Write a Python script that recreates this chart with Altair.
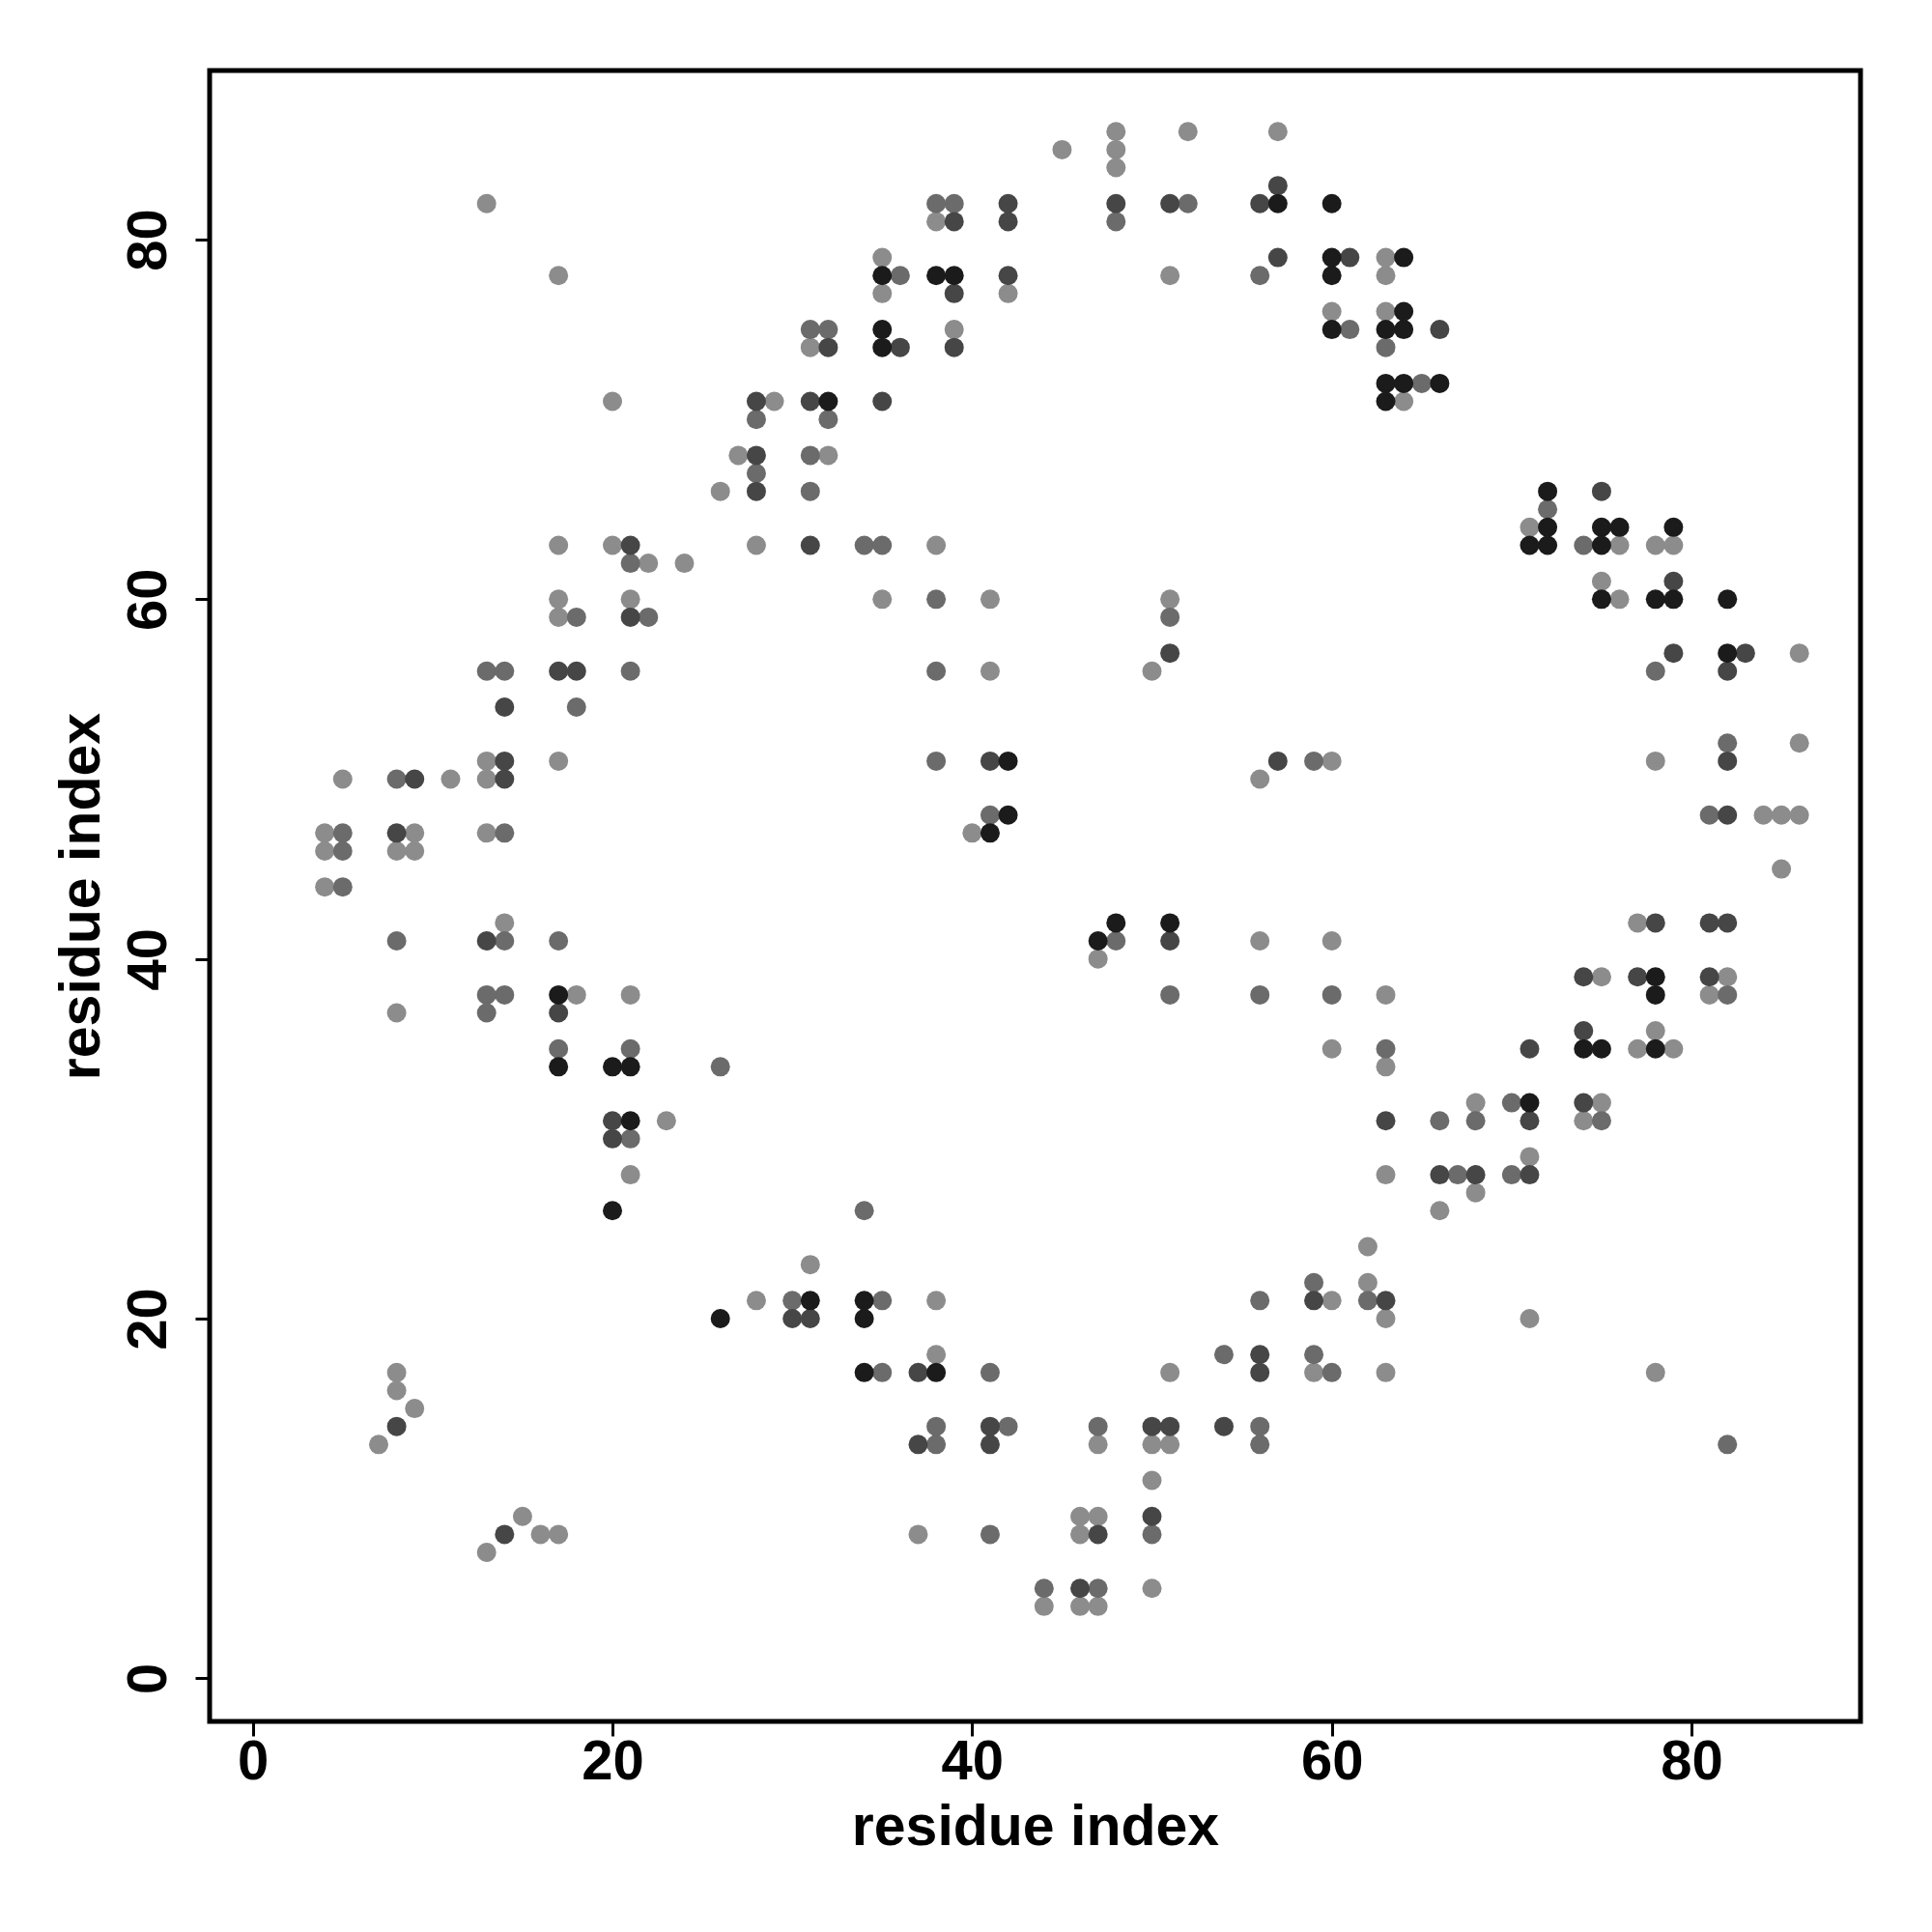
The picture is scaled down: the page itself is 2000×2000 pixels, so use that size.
import altair as alt
import pandas as pd

# contact-map points (residue i, residue j), grouped by grey level
light_pts = [
    (48, 86), (52, 86), (57, 86), (45, 85), (48, 85), (48, 84), (13, 82), (38, 81),
    (35, 79), (63, 79), (17, 78), (51, 78), (63, 78), (35, 77), (42, 77), (60, 76), (63, 76),
    (39, 75), (31, 74), (20, 71), (29, 71), (64, 71), (27, 68), (32, 68), (26, 66), (71, 64),
    (17, 63), (20, 63), (28, 63), (38, 63), (76, 63), (78, 63), (79, 63), (22, 62), (24, 62),
    (75, 61), (17, 60), (21, 60), (35, 60), (41, 60), (51, 60), (76, 60), (17, 59), (86, 57),
    (41, 56), (50, 56), (86, 52), (13, 51), (17, 51), (60, 51), (78, 51), (5, 50), (11, 50),
    (13, 50), (56, 50), (84, 48), (85, 48), (86, 48), (4, 47), (9, 47), (13, 47), (40, 47),
    (4, 46), (8, 46), (9, 46), (85, 45), (4, 44), (14, 42), (77, 42), (56, 41), (60, 41),
    (47, 40), (75, 39), (82, 39), (18, 38), (21, 38), (63, 38), (81, 38), (8, 37), (78, 36),
    (60, 35), (77, 35), (79, 35), (63, 34), (68, 32), (75, 32), (23, 31), (74, 31), (71, 29),
    (21, 28), (63, 28), (68, 27), (66, 26), (62, 24), (31, 23), (62, 22), (28, 21), (38, 21),
    (60, 21), (63, 20), (71, 20), (38, 18), (8, 17), (51, 17), (59, 17), (63, 17), (78, 17),
    (8, 16), (9, 15), (7, 13), (47, 13), (50, 13), (51, 13), (50, 11), (15, 9), (46, 9),
    (47, 9), (16, 8), (17, 8), (37, 8), (46, 8), (13, 7), (50, 5), (44, 4), (46, 4), (47, 4),
]
medium_pts = [
    (38, 82), (39, 82), (52, 82), (48, 81), (36, 78), (56, 78), (31, 75), (32, 75), (61, 75),
    (63, 74), (65, 72), (28, 70), (32, 70), (31, 68), (28, 67), (31, 66), (72, 65), (34, 63),
    (35, 63), (74, 63), (21, 62), (38, 60), (18, 59), (22, 59), (51, 59), (13, 56), (14, 56),
    (21, 56), (38, 56), (78, 56), (18, 54), (82, 52), (38, 51), (59, 51), (8, 50), (41, 48),
    (81, 48), (5, 47), (14, 47), (5, 46), (5, 44), (8, 41), (14, 41), (17, 41), (48, 41),
    (13, 38), (14, 38), (51, 38), (56, 38), (60, 38), (82, 38), (13, 37), (17, 35), (21, 35),
    (63, 35), (26, 34), (70, 32), (66, 31), (68, 31), (75, 31), (21, 30), (67, 28), (70, 28),
    (34, 26), (59, 22), (30, 21), (35, 21), (56, 21), (62, 21), (54, 18), (59, 18), (35, 17),
    (41, 17), (60, 17), (38, 14), (42, 14), (47, 14), (56, 14), (38, 13), (56, 13), (82, 13),
    (41, 8), (50, 8), (44, 5), (47, 5),
]
dark_pts = [
    (57, 83), (42, 82), (48, 82), (51, 82), (56, 82), (39, 81), (42, 81), (57, 79), (61, 79),
    (42, 78), (39, 77), (66, 75), (32, 74), (36, 74), (39, 74), (28, 71), (31, 71), (35, 71),
    (28, 68), (28, 66), (75, 66), (21, 63), (31, 63), (79, 61), (21, 59), (51, 57), (79, 57),
    (83, 57), (17, 56), (18, 56), (82, 56), (14, 54), (14, 51), (41, 51), (57, 51), (82, 51),
    (9, 50), (14, 50), (82, 48), (8, 47), (78, 42), (81, 42), (82, 42), (13, 41), (51, 41),
    (74, 39), (77, 39), (81, 39), (17, 37), (74, 36), (71, 35), (74, 32), (20, 31), (63, 31),
    (71, 31), (20, 30), (66, 28), (68, 28), (71, 28), (59, 21), (63, 21), (30, 20), (31, 20),
    (56, 18), (37, 17), (56, 17), (8, 14), (41, 14), (50, 14), (51, 14), (54, 14), (37, 13),
    (41, 13), (50, 9), (14, 8), (47, 8), (46, 5),
]
black_pts = [
    (57, 82), (60, 82), (60, 79), (64, 79), (35, 78), (38, 78), (39, 78), (60, 78), (64, 76),
    (35, 75), (60, 75), (63, 75), (64, 75), (35, 74), (63, 72), (64, 72), (66, 72), (32, 71),
    (63, 71), (72, 66), (72, 64), (75, 64), (76, 64), (79, 64), (71, 63), (72, 63), (75, 63),
    (75, 60), (78, 60), (79, 60), (82, 60), (82, 57), (42, 51), (42, 48), (41, 47), (48, 42),
    (51, 42), (47, 41), (78, 39), (17, 38), (78, 38), (74, 35), (75, 35), (78, 35), (17, 34),
    (20, 34), (21, 34), (71, 32), (21, 31), (20, 26), (31, 21), (34, 21), (26, 20), (34, 20),
    (34, 17), (38, 17),
]

level_names = ["light", "medium", "dark", "black"]
level_colors = ["#8c8c8c", "#6b6b6b", "#464646", "#1b1b1b"]
x_ticks = [0, 20, 40, 60, 80]
y_ticks = [0, 20, 40, 60, 80]

rows = []
for rank, (name, pts) in enumerate(zip(level_names, [light_pts, medium_pts, dark_pts, black_pts])):
    for i, j in pts:
        rows.append({"i": i, "j": j, "level": name, "ord": rank})
df = pd.DataFrame(rows)

FONT = "Liberation Sans"
W = 1709
H = 1709
dom = [-2.4, 89.4]

chart = alt.Chart(df).mark_circle(size=400, opacity=1).encode(
    x=alt.X("i:Q",
            scale=alt.Scale(domain=dom, nice=False, zero=False),
            axis=alt.Axis(values=x_ticks, title="residue index", grid=False, domain=False,
                          tickSize=15, tickWidth=3, tickColor="black",
                          labelFont=FONT, labelFontWeight="bold", labelFontSize=58,
                          labelColor="black", labelBaseline="alphabetic", labelPadding=44,
                          labelAlign="center", labelFlush=False,
                          titleFont=FONT, titleFontWeight="bold", titleFontSize=59,
                          titleColor="black", titleBaseline="alphabetic", titleAlign="center",
                          titleX=W / 2, titleY=127)),
    y=alt.Y("j:Q",
            scale=alt.Scale(domain=dom, nice=False, zero=False),
            axis=alt.Axis(values=y_ticks, title="residue index", grid=False, domain=False,
                          tickSize=15, tickWidth=3, tickColor="black",
                          labelFont=FONT, labelFontWeight="bold", labelFontSize=58,
                          labelColor="black", labelAngle=270, labelAlign="center",
                          labelBaseline="alphabetic", labelPadding=31, labelFlush=False,
                          titleFont=FONT, titleFontWeight="bold", titleFontSize=59,
                          titleColor="black", titleAngle=270, titleBaseline="alphabetic",
                          titleAlign="center", titleX=-115, titleY=H / 2)),
    color=alt.Color("level:N", scale=alt.Scale(domain=level_names, range=level_colors),
                    legend=None),
    order=alt.Order("ord:Q"),
).properties(
    width=W, height=H,
    background="white",
    autosize=alt.AutoSizeParams(type="none"),
    padding={"left": 209, "top": 65, "right": 66, "bottom": 210},
).configure_view(
    stroke="black", strokeWidth=5, fill="white"
)

chart.save("out.html", embed_options={"renderer": "svg", "actions": False})
